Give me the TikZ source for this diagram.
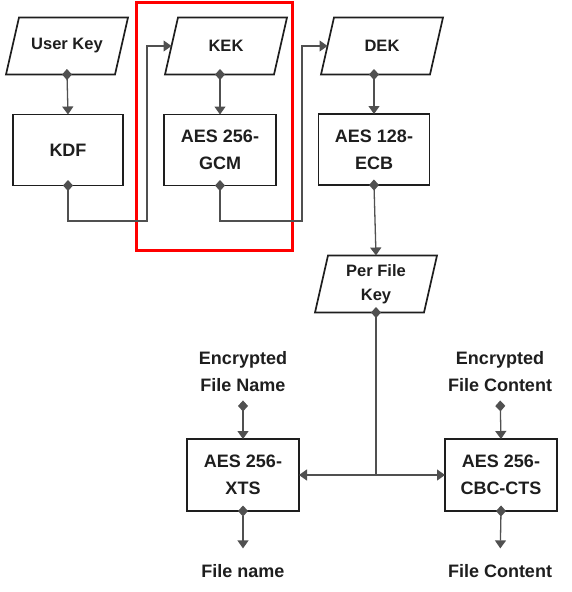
\documentclass[tikz,border=0pt]{standalone}
\usepackage{fontspec}
\setmainfont{Liberation Sans}
\usetikzlibrary{arrows.meta,calc}
\definecolor{txt}{HTML}{1E1E1E}
\definecolor{conncol}{HTML}{505050}
\begin{document}
\begin{tikzpicture}[x=1pt,y=-1pt,
  every node/.style={text=txt,font=\bfseries\fontsize{18}{26.7}\selectfont,align=center,inner sep=0pt,outer sep=0pt},
  procbox/.style={draw=txt,line width=1.7pt,minimum width=#1,minimum height=71pt},
  databox/.style={minimum width=109pt,minimum height=57pt,font=\bfseries\fontsize{16.5}{24}\selectfont},
  conn/.style={draw=conncol,line width=1.3pt},
  arr/.style={conn,-{Triangle[length=8pt,width=11pt]}},
  darr/.style={conn,{Diamond[length=11pt,width=10pt]}-{Triangle[length=8pt,width=11pt]},shorten <=-5.5pt},
  dline/.style={conn,{Diamond[length=11pt,width=10pt]}-,shorten <=-5.5pt},
  para/.style={draw=txt,line width=1.7pt,line join=miter}
]
\useasboundingbox (0,0) rectangle (571,592);

% red highlight frame
\draw[red,line width=3pt] (136.5,2) rectangle (292,250.5);

% data (parallelogram) nodes
\node[databox] (uk)  at (67,46)  {User Key};
\node[databox] (kek) at (226,46) {KEK};
\node[databox] (dek) at (382,46) {DEK};
\node[databox] (pfk) at (376,284) {Per File\\Key};
\foreach \n in {uk,kek,dek,pfk}
  \draw[para] ([xshift=-6.5pt]\n.south west) -- ([xshift=-6.5pt]\n.south east)
      -- ([xshift=6.5pt]\n.north east) -- ([xshift=6.5pt]\n.north west) -- cycle;

% process boxes
\node[procbox=110pt] (kdf) at (68,150)    {KDF};
\node[procbox=112pt] (gcm) at (220,150)   {AES 256-\\GCM};
\node[procbox=111pt] (ecb) at (374,149.5) {AES 128-\\ECB};
\node[procbox=112pt,minimum height=72pt] (xts) at (243,475) {AES 256-\\XTS};
\node[procbox=112pt,minimum height=72pt] (cbc) at (501,475) {AES 256-\\CBC-CTS};

% plain texts
\node (efn) at (243,371.5) {Encrypted\\File Name};
\node (efc) at (500,371.5) {Encrypted\\File Content};
\node (fn)  at (243,571)   {File name};
\node (fc)  at (500,571)   {File Content};

% helper coordinates
\coordinate (c1) at (147,221);
\coordinate (c2) at (302,221);
\coordinate (c3) at (pfk.south |- xts.east);

% connectors
\draw[darr] (uk.south) -- (kdf.north);
\draw[darr] (kdf.south) |- (c1) |- (kek.west);
\draw[darr] ([xshift=-6pt]kek.south) -- (gcm.north);
\draw[darr] (gcm.south) |- (c2) |- (dek.west);
\draw[darr] ([xshift=-8pt]dek.south) -- (ecb.north);
\draw[darr] (ecb.south) -- (pfk.north);
\draw[dline] (pfk.south) -- (c3);
\draw[arr] (c3) -- (xts.east);
\draw[arr] (c3) -- (cbc.west);
\draw[darr,shorten <=9pt] (efn.south) -- (xts.north);
\draw[darr,shorten <=9pt] (efc.south) -- (cbc.north);
\draw[darr,shorten >=16pt] (xts.south) -- (fn.north);
\draw[darr,shorten >=16pt] (cbc.south) -- (fc.north);
\end{tikzpicture}
\end{document}
